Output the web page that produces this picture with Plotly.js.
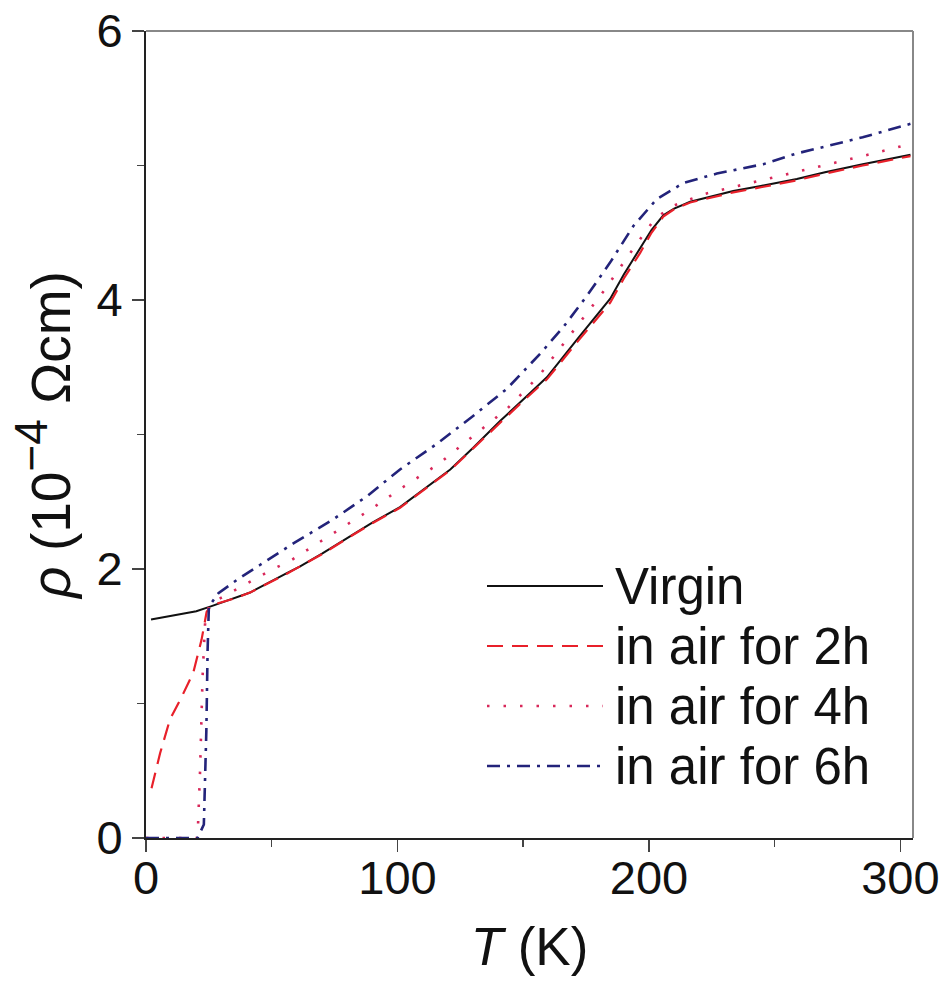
<!DOCTYPE html>
<html>
<head>
<meta charset="utf-8">
<script src="https://cdn.plot.ly/plotly-3.0.1.min.js"></script>
<style>html,body{margin:0;padding:0;background:#fff;}#chart{width:946px;height:981px;}</style>
</head>
<body>
<div id="chart"></div>
<script>
// Virgin
const virginT = [2, 10, 20, 25.5, 35, 41.4, 56, 61.3, 70, 81.1, 90, 101, 110, 121, 130, 140.8, 150, 159.4, 172, 184.6, 190, 196.5, 201, 205.7, 210, 216.4, 225, 233.5, 245, 258.8, 270, 285, 304];
const virginRho = [1.624, 1.65, 1.686, 1.72, 1.78, 1.825, 1.97, 2.02, 2.115, 2.245, 2.345, 2.46, 2.585, 2.74, 2.90, 3.10, 3.26, 3.425, 3.72, 4.01, 4.19, 4.38, 4.52, 4.63, 4.68, 4.73, 4.77, 4.81, 4.85, 4.90, 4.95, 5.01, 5.08];
// in air for 2h
const air2T = [2.2, 5.6, 9.5, 14.2, 18.8, 22.1, 24.1, 26, 35, 41.4, 56, 61.3, 70, 81.1, 90, 101, 110, 121, 130, 140.8, 150, 159.4, 172, 184.6, 190, 196.5, 201, 205.7, 210, 216.4, 225, 233.5, 245, 258.8, 270, 285, 304];
const air2Rho = [0.37, 0.63, 0.88, 1.05, 1.23, 1.475, 1.68, 1.73, 1.78, 1.825, 1.965, 2.02, 2.11, 2.24, 2.34, 2.455, 2.58, 2.735, 2.895, 3.09, 3.25, 3.41, 3.70, 3.98, 4.16, 4.35, 4.50, 4.62, 4.675, 4.725, 4.765, 4.80, 4.84, 4.89, 4.94, 5.00, 5.07];
// in air for 4h
const air4T = [0, 10, 20.5, 21.5, 22.5, 23.5, 25, 27.4, 36, 50.5, 57.3, 63.2, 75.9, 89.1, 102.3, 116.3, 129.5, 143.5, 156, 170, 182.6, 191.8, 201.8, 208.4, 215, 222.4, 242.9, 256.2, 270, 285, 304];
const air4Rho = [0, 0, 0, 0.5, 1.2, 1.6, 1.72, 1.76, 1.85, 2.0, 2.06, 2.13, 2.28, 2.44, 2.61, 2.78, 2.98, 3.19, 3.43, 3.77, 4.08, 4.33, 4.59, 4.69, 4.74, 4.79, 4.88, 4.94, 5.00, 5.07, 5.16];
// in air for 6h
const air6T = [0, 10, 20.5, 23, 24, 24.5, 25, 28.8, 37, 45.3, 58.6, 74.5, 87.8, 101, 115.6, 130.2, 143.5, 156.7, 166, 175.3, 184.6, 193.8, 203.1, 213.7, 227, 245.5, 258.8, 270, 285, 304];
const air6Rho = [0, 0, 0, 0.1, 0.8, 1.4, 1.72, 1.82, 1.93, 2.03, 2.19, 2.37, 2.54, 2.74, 2.93, 3.14, 3.34, 3.60, 3.80, 4.03, 4.28, 4.55, 4.75, 4.87, 4.94, 5.01, 5.09, 5.14, 5.21, 5.31];

const seriesNames = ['Virgin', 'in air for 2h', 'in air for 4h', 'in air for 6h'];
const xTicks = [0, 100, 200, 300];
const yTicks = [0, 2, 4, 6];

const FONT = 'Liberation Sans, Arial, Helvetica, sans-serif';

const lineStyles = [
  {color: '#111111', width: 2, dash: 'solid'},
  {color: '#e8202a', width: 2.2, dash: '16px,9px'},
  {color: '#d8285a', width: 2.6, dash: '2.5px,14px'},
  {color: '#23237a', width: 2.6, dash: '13px,7px,3px,7px'}
];
const seriesX = [virginT, air2T, air4T, air6T];
const seriesY = [virginRho, air2Rho, air4Rho, air6Rho];

const traces = seriesNames.map((n, i) => ({
  x: seriesX[i], y: seriesY[i], name: n, mode: 'lines', line: lineStyles[i], showlegend: false
}));

// Legend drawn as paper-positioned samples + labels (tight row spacing like the original)
const W = 946, H = 981, M = {l: 146, r: 33, t: 31, b: 143};
const pw = W - M.l - M.r, ph = H - M.t - M.b;
const px2x = p => (p - M.l) / pw;
const px2y = p => 1 - (p - M.t) / ph;
const legRow0 = 586, legRowGap = 60, legLineX0 = 487, legLineX1 = 603, legTextX = 613;
const legendShapes = seriesNames.map((n, i) => ({
  type: 'line', xref: 'paper', yref: 'paper',
  x0: px2x(legLineX0), x1: px2x(legLineX1),
  y0: px2y(legRow0 + i * legRowGap), y1: px2y(legRow0 + i * legRowGap),
  line: lineStyles[i]
}));
const legendAnnots = seriesNames.map((n, i) => ({
  text: n, xref: 'paper', yref: 'paper', x: px2x(legTextX), y: px2y(legRow0 + i * legRowGap),
  xanchor: 'left', yanchor: 'middle', showarrow: false,
  font: {family: FONT, size: 51, color: '#111111'}
}));

const layout = {
  width: W, height: H,
  margin: {l: M.l, r: M.r, t: M.t, b: M.b, pad: 0},
  paper_bgcolor: '#ffffff', plot_bgcolor: '#ffffff',
  font: {family: FONT, size: 46, color: '#111111'},
  showlegend: false,
  xaxis: {
    range: [0, 305], showgrid: false, zeroline: false,
    showline: true, linecolor: '#222222', linewidth: 2,
    ticks: 'outside', ticklen: 12, tickwidth: 1.5, tickcolor: '#444444',
    tickmode: 'array', tickvals: xTicks, ticktext: xTicks.map(String),
    minor: {tickvals: [50, 150, 250], ticks: 'outside', ticklen: 7, tickwidth: 1.5, tickcolor: '#444444'},
    tickfont: {family: FONT, size: 47, color: '#111111'},
    ticklabelstandoff: -14,
    title: {text: '<i>T</i> (K)', font: {family: FONT, size: 53, color: '#111111'}, standoff: 24}
  },
  yaxis: {
    range: [0, 6], showgrid: false, zeroline: false,
    showline: true, linecolor: '#222222', linewidth: 2,
    ticks: 'outside', ticklen: 12, tickwidth: 1.5, tickcolor: '#444444',
    tickmode: 'array', tickvals: yTicks, ticktext: yTicks.map(String),
    minor: {tickvals: [1, 3, 5], ticks: 'outside', ticklen: 7, tickwidth: 1.5, tickcolor: '#444444'},
    tickfont: {family: FONT, size: 47, color: '#111111'},
    title: {text: '<i>ρ</i> (10<sup><span style="font-size:46px">−4</span></sup> Ωcm)', font: {family: FONT, size: 55, color: '#111111'}, standoff: 8}
  },
  shapes: [
    {type: 'line', xref: 'paper', yref: 'paper', x0: 0, x1: 1, y0: 1, y1: 1, line: {color: '#888888', width: 2}},
    {type: 'line', xref: 'paper', yref: 'paper', x0: 1, x1: 1, y0: 0, y1: 1, line: {color: '#888888', width: 2}}
  ].concat(legendShapes),
  annotations: legendAnnots
};

Plotly.newPlot('chart', traces, layout, {displayModeBar: false, staticPlot: true});
</script>
</body>
</html>
